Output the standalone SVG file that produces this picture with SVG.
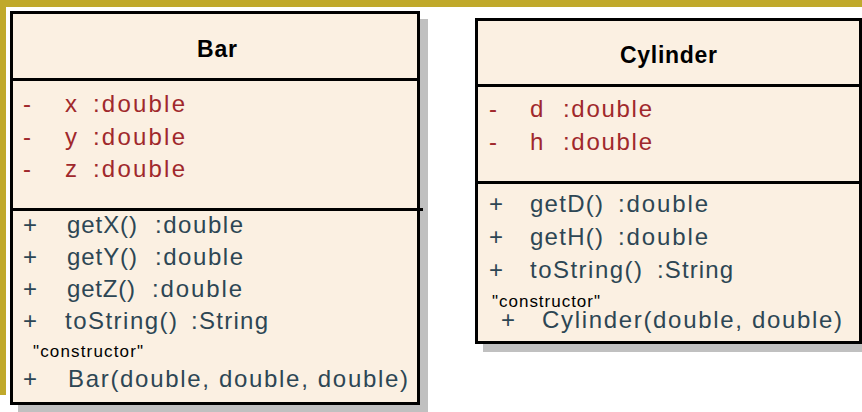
<svg xmlns="http://www.w3.org/2000/svg" width="862" height="412" viewBox="0 0 862 412">
  <style>
    .box { fill: #FBF0E2; stroke: #000; stroke-width: 3; }
    .shadow { fill: #C0C0C0; }
    .sep { stroke: #000; stroke-width: 3; fill: none; }
    .title { font-family: "Liberation Sans", Arial, sans-serif; font-size: 23px; font-weight: bold; fill: #000; text-anchor: middle; }
    .attr { font-family: "Liberation Sans", Arial, sans-serif; font-size: 24px; fill: #A0282C; }
    .op { font-family: "Liberation Sans", Arial, sans-serif; font-size: 24px; fill: #2D4654; }
    .stereo { font-family: "Liberation Sans", Arial, sans-serif; font-size: 17px; fill: #000; }
  </style>

  <!-- page frame -->
  <rect x="0" y="0" width="862" height="7" fill="#C0A92B"/>
  <rect x="0" y="0" width="6" height="395" fill="#C0A92B"/>

  <!-- class Bar -->
  <g id="bar">
    <rect class="shadow" x="18" y="19" width="410" height="393"/>
    <rect class="box" x="11.5" y="12.5" width="407" height="391"/>
    <line class="sep" x1="11.5" y1="79.5" x2="418.5" y2="79.5"/>
    <line class="sep" x1="11.5" y1="209.5" x2="423" y2="209.5"/>
    <text class="title" x="217" y="57" textLength="40">Bar</text>

    <text class="attr" x="23" y="112">-</text>
    <text class="attr" x="65" y="112">x</text>
    <text class="attr" x="93" y="112" textLength="92">:double</text>
    <text class="attr" x="23" y="145">-</text>
    <text class="attr" x="65" y="145">y</text>
    <text class="attr" x="93" y="145" textLength="92">:double</text>
    <text class="attr" x="23" y="177">-</text>
    <text class="attr" x="65" y="177">z</text>
    <text class="attr" x="93" y="177" textLength="92">:double</text>

    <text class="op" x="23" y="233">+</text>
    <text class="op" x="67" y="233" textLength="70">getX()</text>
    <text class="op" x="155" y="233" textLength="88">:double</text>
    <text class="op" x="23" y="265">+</text>
    <text class="op" x="67" y="265" textLength="70">getY()</text>
    <text class="op" x="155" y="265" textLength="88">:double</text>
    <text class="op" x="23" y="297">+</text>
    <text class="op" x="67" y="297" textLength="68">getZ()</text>
    <text class="op" x="152" y="297" textLength="90">:double</text>
    <text class="op" x="23" y="329">+</text>
    <text class="op" x="65" y="329" textLength="112">toString()</text>
    <text class="op" x="191" y="329" textLength="77">:String</text>
    <text class="stereo" x="33" y="357" textLength="110">"constructor"</text>
    <text class="op" x="23" y="387">+</text>
    <text class="op" x="68" y="387" textLength="340">Bar(double, double, double)</text>
  </g>

  <!-- class Cylinder -->
  <g id="cylinder">
    <rect class="shadow" x="483" y="26" width="384" height="326"/>
    <rect class="box" x="476.5" y="19.5" width="384" height="323"/>
    <line class="sep" x1="476.5" y1="85.5" x2="860.5" y2="85.5"/>
    <line class="sep" x1="476.5" y1="182.5" x2="860.5" y2="182.5"/>
    <text class="title" x="668.5" y="63" textLength="97">Cylinder</text>

    <text class="attr" x="489" y="117">-</text>
    <text class="attr" x="530" y="117">d</text>
    <text class="attr" x="563" y="117" textLength="89">:double</text>
    <text class="attr" x="489" y="150">-</text>
    <text class="attr" x="530" y="150">h</text>
    <text class="attr" x="563" y="150" textLength="89">:double</text>

    <text class="op" x="489" y="212">+</text>
    <text class="op" x="530" y="212" textLength="73">getD()</text>
    <text class="op" x="618" y="212" textLength="90">:double</text>
    <text class="op" x="489" y="245">+</text>
    <text class="op" x="530" y="245" textLength="73">getH()</text>
    <text class="op" x="618" y="245" textLength="90">:double</text>
    <text class="op" x="489" y="278">+</text>
    <text class="op" x="530" y="278" textLength="112">toString()</text>
    <text class="op" x="657" y="278" textLength="76">:String</text>
    <text class="stereo" x="492" y="307" textLength="108">"constructor"</text>
    <text class="op" x="501" y="328">+</text>
    <text class="op" x="542" y="328" textLength="300">Cylinder(double, double)</text>
  </g>
</svg>
